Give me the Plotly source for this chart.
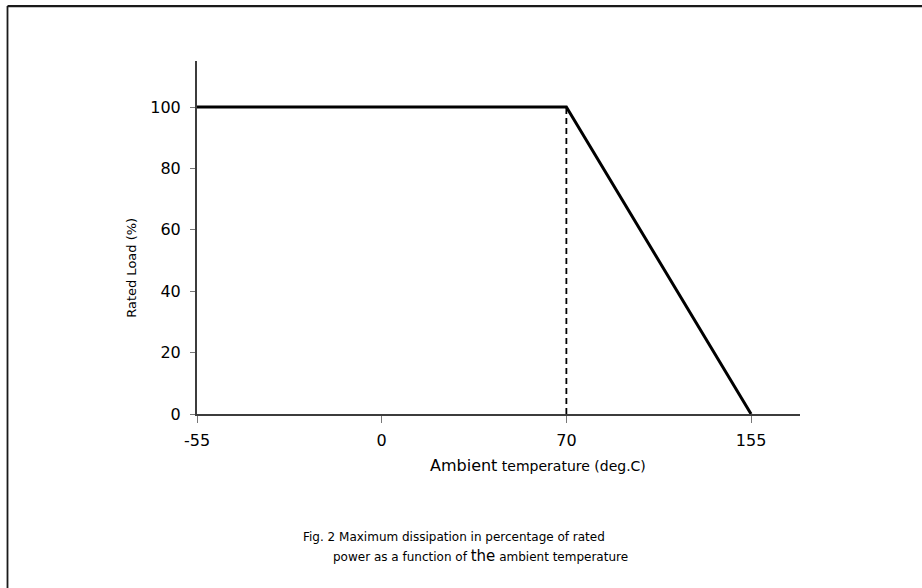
import plotly.graph_objects as go

# Data
temperatures = ["-55", "0", "70", "155"]
rated_load = [100, 100, 100, 0]
knee_temperature = ["70", "70"]
knee_load = [0, 100]
y_ticks = [0, 20, 40, 60, 80, 100]

W, H = 922, 588
L, R, T, B = 197, 800, 61, 414.3

def px_x(x):
    return (x - L) / (R - L)

def px_y(y):
    return (B - y) / (B - T)

FONT = "DejaVu Sans"

fig = go.Figure()
fig.add_trace(go.Scatter(
    x=temperatures, y=rated_load, mode="lines",
    line=dict(color="black", width=3), cliponaxis=False, showlegend=False,
))
fig.add_trace(go.Scatter(
    x=knee_temperature, y=knee_load, mode="lines",
    line=dict(color="black", width=1.8, dash="6px,4px"), showlegend=False,
))

fig.update_layout(
    width=W, height=H,
    margin=dict(l=L, r=W - R, t=T, b=H - B, pad=0),
    paper_bgcolor="white", plot_bgcolor="white",
    font=dict(family=FONT, color="black", size=16),
    xaxis=dict(
        type="category", range=[0, 3.265], showgrid=False, zeroline=False,
        showline=True, linecolor="#3c3c3c", linewidth=1.5,
        ticks="outside", ticklen=7, tickcolor="#777777", tickwidth=1,
        tickfont=dict(family=FONT, size=16, color="black"),
        ticklabelstandoff=4,
    ),
    yaxis=dict(
        range=[0, 115], tickvals=y_ticks, showgrid=False, zeroline=False,
        showline=True, linecolor="#3c3c3c", linewidth=2,
        ticks="outside", ticklen=5, tickcolor="#777777", tickwidth=1,
        tickfont=dict(family=FONT, size=16, color="black"),
        ticklabelstandoff=6,
    ),
    shapes=[
        dict(type="line", xref="paper", yref="paper",
             x0=px_x(7.5), x1=px_x(W + 5), y0=px_y(6), y1=px_y(6),
             line=dict(color="#1a1a1a", width=2.2)),
        dict(type="line", xref="paper", yref="paper",
             x0=px_x(7.5), x1=px_x(7.5), y0=px_y(6), y1=px_y(H + 5),
             line=dict(color="#1a1a1a", width=1.8)),
    ],
    annotations=[
        dict(text="Rated Load (%)", xref="paper", yref="paper",
             x=px_x(132), y=px_y(268), textangle=-90, showarrow=False,
             xanchor="center", yanchor="middle",
             font=dict(family=FONT, size=13, color="black")),
        dict(text="<span style='font-size:16px'>Ambient</span> temperature (deg.C)",
             xref="paper", yref="paper", x=px_x(428), y=px_y(466),
             showarrow=False, xanchor="left", yanchor="middle",
             font=dict(family=FONT, size=14, color="black")),
        dict(text="Fig. 2 Maximum dissipation in percentage of rated",
             xref="paper", yref="paper", x=px_x(301), y=px_y(537),
             showarrow=False, xanchor="left", yanchor="middle",
             font=dict(family=FONT, size=12, color="black")),
        dict(text="power as a function of <span style='font-size:15px'>the</span> ambient temperature",
             xref="paper", yref="paper", x=px_x(331), y=px_y(556),
             showarrow=False, xanchor="left", yanchor="middle",
             font=dict(family=FONT, size=12, color="black")),
    ],
)

fig.write_html("out.html", config={"displayModeBar": False},
               post_script="document.body.style.margin='0';")
